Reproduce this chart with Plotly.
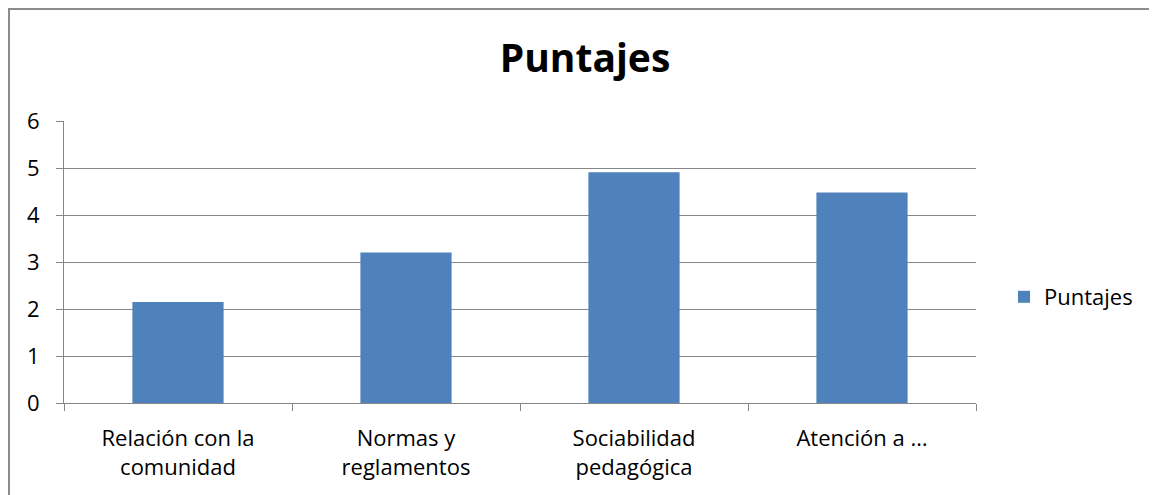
import plotly.graph_objects as go

categories = ["Relación con la<br>comunidad", "Normas y<br>reglamentos",
              "Sociabilidad<br>pedagógica", "Atención a …"]
puntajes = [2.15, 3.2, 4.91, 4.48]

# figure size (page has an 8px body margin)
W, H = 1149, 487
L, R, T, B = 56, 181, 113, 92
pw, ph = W - L - R, H - T - B

fig = go.Figure()

fig.add_trace(go.Bar(
    x=categories,
    y=puntajes,
    name="Puntajes",
    marker=dict(color="#4F81BD", line=dict(color="#4F81BD", width=0)),
    width=0.4,
))

# outer chart frame (Excel-style), open to the right/bottom
fig.add_shape(
    type="rect", xref="paper", yref="paper",
    x0=(1 - L) / pw, x1=(W + 10 - L) / pw,
    y0=(H - B - (H + 10)) / ph, y1=(H - B - 1) / ph,
    line=dict(color="#8C8C8C", width=2), layer="below",
)

fig.update_layout(
    width=W, height=H,
    margin=dict(l=L, r=R, t=T, b=B),
    paper_bgcolor="white", plot_bgcolor="white",
    font=dict(family="Open Sans, Calibri, sans-serif", size=22, color="black"),
    title=dict(text="<b>Puntajes</b>", x=577 / W, xanchor="center",
               y=1 - 50 / H, yanchor="middle", font=dict(size=39)),
    showlegend=True,
    legend=dict(x=(996 - L) / pw, xanchor="left", y=(H - B - 289) / ph,
                yanchor="middle", font=dict(size=22), bgcolor="rgba(0,0,0,0)"),
    bargap=0.6,
)

fig.update_yaxes(
    range=[0, 6], dtick=1, showgrid=True, gridcolor="#868686", gridwidth=1,
    showline=True, linecolor="#868686", linewidth=1,
    ticks="outside", ticklen=7, tickcolor="#868686",
    zeroline=False, ticklabelstandoff=12,
)
fig.update_xaxes(
    showline=True, linecolor="#868686", linewidth=1,
    ticks="outside", ticklen=7, tickcolor="#868686",
    tickson="boundaries", showgrid=False, mirror=False,
    ticklabelstandoff=16,
)

fig.write_html("out.html")
